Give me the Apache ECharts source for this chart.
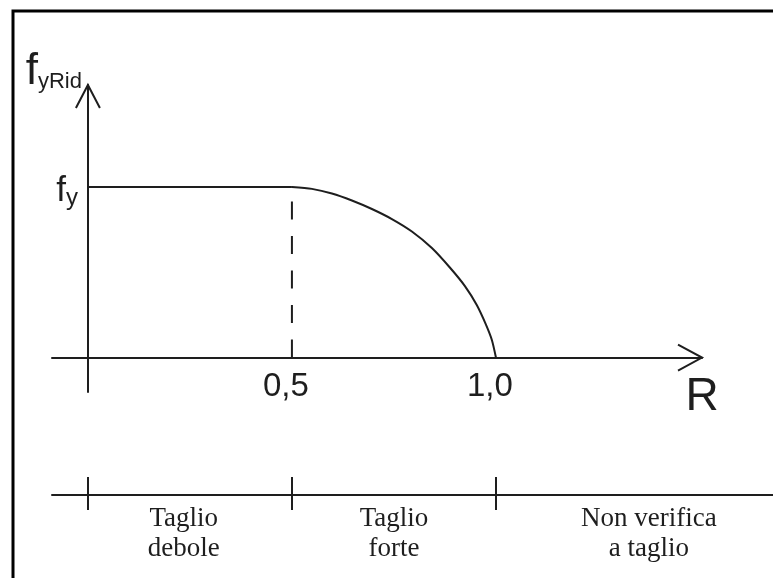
<!DOCTYPE html>
<html>
<head>
<meta charset="utf-8">
<script src="https://cdn.jsdelivr.net/npm/echarts@6/dist/echarts.min.js"></script>
<style>html,body{margin:0;padding:0;background:#fff}#c{width:773px;height:586px}</style>
</head>
<body>
<div id="c"></div>
<script>
// ---- data ----
var flatR = [0, 0.5];
var flatF = [1, 1];
var curveR = [0.5, 0.549, 0.598, 0.647, 0.696, 0.745, 0.794, 0.843, 0.887, 0.924, 0.953, 0.975, 0.990, 1.0];
var curveF = [1.0, 0.989, 0.962, 0.921, 0.871, 0.812, 0.739, 0.642, 0.528, 0.419, 0.308, 0.196, 0.103, 0];
var dashR = [0.5, 0.5];
var dashF = [0, 1];
var xTickValues = [0.5, 1.0];
var xTickLabels = ['0,5', '1,0'];
var yTickValues = [1];
var zoneBounds = [0, 0.5, 1.0];
var zoneCenters = [0.235, 0.75, 1.375];
var zoneLabels = ['Taglio\ndebole', 'Taglio\nforte', 'Non verifica\na taglio'];
var xName = 'R';
var yNameMain = 'f';
var yNameSub = 'yRid';
var yTickMain = 'f';
var yTickSub = 'y';

function pairs(a, b) { return a.map(function (v, i) { return [v, b[i]]; }); }

var INK = '#1e1e1e';
var SANS = "'Liberation Sans Narrow','Liberation Sans',sans-serif";
var SERIF = "'Liberation Serif','DejaVu Serif',serif";

var chart = echarts.init(document.getElementById('c'), null, {renderer: 'canvas'});
var option = {
  backgroundColor: '#fff',
  animation: false,
  graphic: [{
    type: 'polyline',
    shape: {points: [[13, 578], [13, 11], [773, 11]]},
    style: {stroke: '#000', lineWidth: 3, fill: null}
  }],
  grid: [
    {left: 52, right: 71, top: 85, bottom: 194},
    {left: 52, right: 0, top: 477, bottom: 91}
  ],
  xAxis: [{
    gridIndex: 0, type: 'value', min: -0.088, max: 1.505,
    axisLine: {show: true, onZero: true, lineStyle: {color: INK, width: 2}},
    axisTick: {show: false},
    splitLine: {show: false},
    axisLabel: {
      customValues: xTickValues,
      formatter: function (v) { var i = xTickValues.indexOf(v); return i >= 0 ? xTickLabels[i] : ''; },
      color: INK, fontFamily: SANS, fontSize: 33, margin: -22, padding: [0, 12, 0, 0]
    },
    name: xName, nameLocation: 'end', nameGap: 0,
    nameTextStyle: {color: INK, fontFamily: SANS, fontSize: 46, align: 'center', verticalAlign: 'top', padding: [17, 0, 0, 0]}
  }, {
    gridIndex: 1, type: 'value', min: -0.088, max: 1.679, position: 'bottom',
    axisLine: {show: true, onZero: false, lineStyle: {color: INK, width: 2}},
    axisTick: {show: true, inside: false, length: 15, customValues: zoneBounds, lineStyle: {color: INK, width: 2}},
    splitLine: {show: false},
    axisLabel: {
      customValues: zoneCenters,
      formatter: function (v) { var i = zoneCenters.indexOf(v); return i >= 0 ? zoneLabels[i] : ''; },
      color: INK, fontFamily: SERIF, fontSize: 27, lineHeight: 30, margin: 9
    }
  }, {
    gridIndex: 1, type: 'value', min: -0.088, max: 1.679, position: 'bottom',
    axisLine: {show: false, onZero: false},
    axisTick: {show: true, inside: true, length: 18, customValues: zoneBounds, lineStyle: {color: INK, width: 2}},
    splitLine: {show: false},
    axisLabel: {show: false}
  }],
  yAxis: [{
    gridIndex: 0, type: 'value', min: -0.202, max: 1.598,
    axisLine: {show: true, onZero: true, lineStyle: {color: INK, width: 2}},
    axisTick: {show: false},
    splitLine: {show: false},
    axisLabel: {
      customValues: yTickValues,
      formatter: function () { return '{m|' + yTickMain + '}{s|' + yTickSub + '}'; },
      margin: -26,
      padding: [8, 0, 0, 0],
      rich: {
        m: {color: INK, fontFamily: SANS, fontSize: 35},
        s: {color: INK, fontFamily: SANS, fontSize: 24, padding: [14, 0, 0, 0]}
      }
    },
    name: '{m|' + yNameMain + '}{s|' + yNameSub + '}', nameLocation: 'end', nameGap: -9,
    nameTextStyle: {
      align: 'right', verticalAlign: 'bottom', padding: [0, 6, 0, 0],
      rich: {
        m: {color: INK, fontFamily: SANS, fontSize: 44},
        s: {color: INK, fontFamily: SANS, fontSize: 22, padding: [20, 0, 0, 0]}
      }
    }
  }, {
    gridIndex: 1, type: 'value', show: false, min: 0, max: 1
  }],
  series: [{
    type: 'line', xAxisIndex: 0, yAxisIndex: 0, data: pairs(flatR, flatF),
    symbol: 'none', lineStyle: {color: INK, width: 2}
  }, {
    type: 'line', xAxisIndex: 0, yAxisIndex: 0, data: pairs(curveR, curveF),
    symbol: 'none', smooth: 0.25, lineStyle: {color: INK, width: 2}
  }, {
    type: 'line', xAxisIndex: 0, yAxisIndex: 0, data: pairs(dashR, dashF),
    symbol: 'none', lineStyle: {color: INK, width: 2, type: [18, 16.5]}
  }, {
    type: 'custom', xAxisIndex: 0, yAxisIndex: 0, clip: false,
    data: [[1.505, 0, 0], [0, 1.598, 1]],
    renderItem: function (params, api) {
      var p = api.coord([api.value(0), api.value(1)]);
      var pts = api.value(2) === 0
        ? [[p[0] - 24, p[1] - 13], [p[0], p[1]], [p[0] - 24, p[1] + 13]]
        : [[p[0] - 12, p[1] + 23], [p[0], p[1]], [p[0] + 12, p[1] + 23]];
      return {type: 'polyline', shape: {points: pts}, style: {stroke: INK, lineWidth: 2, fill: null}};
    }
  }]
};
chart.setOption(option);
</script>
</body>
</html>
